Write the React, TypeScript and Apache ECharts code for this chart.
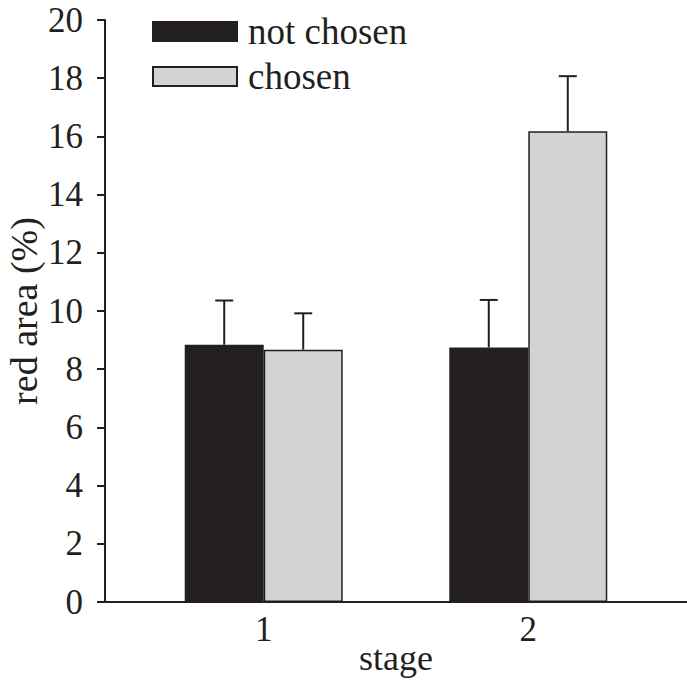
import React, { useEffect, useRef } from "react";
import * as echarts from "echarts";

const stages = [1, 2];
const stageLabels = ["1", "2"];
const notChosen = [8.84, 8.75];
const notChosenErr = [10.36, 10.38];
const chosen = [8.67, 16.18];
const chosenErr = [9.92, 18.07];
const yTicks = [0, 2, 4, 6, 8, 10, 12, 14, 16, 18, 20];

const INK = "#231f20";
const GREY = "#d1d3d4";
const FONT = "Liberation Serif";

export default function App() {
  const ref = useRef<HTMLDivElement>(null);
  useEffect(() => {
    if (!ref.current) return;
    const chart = echarts.init(ref.current, undefined, { renderer: "svg" });
    const barW = 79;
    const errSeries = (vals: number[], errs: number[], offset: number, name: string) => ({
      type: "custom",
      name,
      silent: true,
      z: 1,
      data: stages.map((s, i) => [s, vals[i], errs[i]]),
      renderItem: (params: any, api: any) => {
        const p0 = api.coord([api.value(0), api.value(1)]);
        const p1 = api.coord([api.value(0), api.value(2)]);
        const x = p0[0] + offset;
        const style = { stroke: INK, lineWidth: 2 };
        return {
          type: "group",
          children: [
            { type: "line", shape: { x1: x, y1: p0[1], x2: x, y2: p1[1] }, style },
            { type: "line", shape: { x1: x - 9, y1: p1[1], x2: x + 9, y2: p1[1] }, style },
          ],
        };
      },
    });
    chart.setOption({
      animation: false,
      backgroundColor: "#ffffff",
      textStyle: { fontFamily: FONT, color: INK },
      grid: { left: 105, right: 0, top: 20, bottom: 79, containLabel: false, outerBoundsMode: "none" },
      legend: {
        orient: "vertical",
        left: 152,
        top: 13,
        padding: 0,
        itemWidth: 84,
        itemHeight: 19,
        itemGap: 8,
        icon: "rect",
        data: ["not chosen", "chosen"],
        textStyle: { fontFamily: FONT, fontSize: 37, color: INK, padding: [0, 0, 0, 6] },
      },
      xAxis: {
        type: "value",
        min: 0.4,
        max: 2.6,
        interval: 0.2,
        name: "stage",
        nameLocation: "middle",
        nameGap: 38,
        nameMoveOverlap: false,
        nameTextStyle: { fontFamily: FONT, fontSize: 36, lineHeight: 36, color: INK },
        axisLine: { show: true, lineStyle: { color: INK, width: 2 } },
        axisTick: { show: false },
        splitLine: { show: false },
        axisLabel: {
          fontFamily: FONT,
          fontSize: 35,
          color: INK,
          margin: 10,
          formatter: (v: number) => {
            const i = stages.indexOf(Math.round(v * 1000) / 1000);
            return i >= 0 ? stageLabels[i] : "";
          },
        },
      },
      yAxis: {
        type: "value",
        min: 0,
        max: 20,
        interval: 2,
        name: "red area (%)",
        nameLocation: "middle",
        nameGap: 62,
        nameMoveOverlap: false,
        nameTextStyle: { fontFamily: FONT, fontSize: 38, lineHeight: 38, color: INK },
        axisLine: { show: true, lineStyle: { color: INK, width: 2 } },
        axisTick: { show: true, inside: false, length: 8, lineStyle: { color: INK, width: 2 } },
        splitLine: { show: false },
        axisLabel: {
          fontFamily: FONT,
          fontSize: 35,
          color: INK,
          margin: 22,
          formatter: (v: number) => (yTicks.indexOf(v) >= 0 ? String(v) : ""),
        },
      },
      series: [
        {
          type: "bar",
          name: "not chosen",
          barWidth: barW,
          barGap: "0%",
          z: 2,
          itemStyle: { color: INK, borderColor: INK, borderWidth: 1.5 },
          data: stages.map((s, i) => [s, notChosen[i]]),
        },
        {
          type: "bar",
          name: "chosen",
          barWidth: barW,
          barGap: "0%",
          z: 2,
          itemStyle: { color: GREY, borderColor: INK, borderWidth: 1.5 },
          data: stages.map((s, i) => [s, chosen[i]]),
        },
        errSeries(notChosen, notChosenErr, -barW / 2, "err1"),
        errSeries(chosen, chosenErr, barW / 2, "err2"),
      ],
    });
    return () => chart.dispose();
  }, []);
  return <div ref={ref} style={{ width: 687, height: 681, position: "absolute", left: 0, top: 0 }} />;
}
